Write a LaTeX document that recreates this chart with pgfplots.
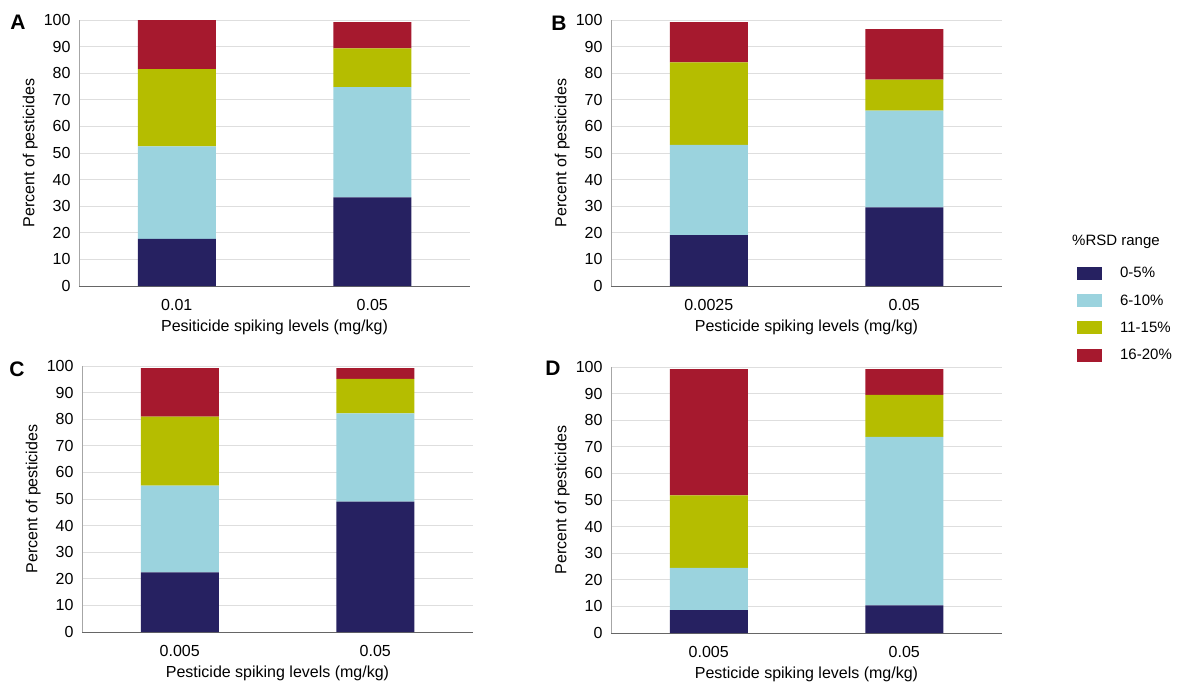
\documentclass[border=0pt]{standalone}
\usepackage{pgfplots}
\pgfplotsset{compat=1.18}
\usepackage{fontspec}
\setmainfont{Liberation Sans}
\definecolor{c1}{RGB}{38,33,97}
\definecolor{c2}{RGB}{155,211,222}
\definecolor{c3}{RGB}{181,189,0}
\definecolor{c4}{RGB}{166,25,46}
\pgfplotsset{panel/.style={
  scale only axis, width=391pt, height=266pt,
  ybar stacked, bar width=78pt,
  xmin=-0.5, xmax=1.5, ymin=0, ymax=100,
  xtick={0,1}, ytick={0,10,...,100},
  axis x line*=bottom, axis y line*=left,
  x axis line style={draw=black!60, line width=1pt},
  y axis line style={draw=black!35, line width=0.8pt},
  ymajorgrids, grid style={draw=black!13, line width=0.8pt},
  major tick length=0pt,
  tick label style={font=\fontsize{16}{18}\selectfont},
  label style={font=\fontsize{16}{18}\selectfont},
  /pgf/number format/assume math mode=true,
  xticklabel style={anchor=center, yshift=-19pt},
  yticklabel style={xshift=-5pt},
  ylabel={Percent of pesticides},
  xlabel={Pesticide spiking levels (mg/kg)},
  ylabel style={at={(axis description cs:-0.125,0.5)}, anchor=center},
  xlabel style={at={(axis description cs:0.5,-0.154)}, anchor=center},
  every axis plot/.append style={draw=none},
  legend image code/.code={\fill[##1] (0pt,-6.5pt) rectangle (25pt,6.5pt);},
}}
\begin{document}
\begin{tikzpicture}
\useasboundingbox (0pt,0pt) rectangle (1177pt,-683pt);
% Panel A
\begin{axis}[panel, at={(79pt,-286pt)}, anchor=south west, xticklabels={0.01,0.05},
  xlabel={Pesiticide spiking levels (mg/kg)}]
\addplot[fill=c1] coordinates {(0,17.7) (1,33.3)};
\addplot[fill=c2] coordinates {(0,34.8) (1,41.5)};
\addplot[fill=c3] coordinates {(0,29.0) (1,14.5)};
\addplot[fill=c4] coordinates {(0,18.5) (1,9.9)};
\end{axis}
% Panel B
\begin{axis}[panel, at={(611pt,-286pt)}, anchor=south west, xticklabels={0.0025,0.05},
  legend style={at={(axis description cs:1.184,0.087)}, anchor=north west, draw=none, fill=none,
    font=\fontsize{15}{17}\selectfont, row sep=11.5pt,
    nodes={inner xsep=3pt},
    /tikz/every odd column/.append style={column sep=15pt}},
  legend cell align=left]
\addplot[fill=c1] coordinates {(0,19.1) (1,29.6)};
\addplot[fill=c2] coordinates {(0,34.0) (1,36.3)};
\addplot[fill=c3] coordinates {(0,31.0) (1,11.7)};
\addplot[fill=c4] coordinates {(0,15.1) (1,19.0)};
\legend{0-5\%,6-10\%,11-15\%,16-20\%}
\end{axis}
% Panel C
\begin{axis}[panel, at={(82pt,-632pt)}, anchor=south west, xticklabels={0.005,0.05}]
\addplot[fill=c1] coordinates {(0,22.4) (1,49.0)};
\addplot[fill=c2] coordinates {(0,32.6) (1,33.2)};
\addplot[fill=c3] coordinates {(0,26.0) (1,13.0)};
\addplot[fill=c4] coordinates {(0,18.2) (1,4.0)};
\end{axis}
% Panel D
\begin{axis}[panel, at={(611pt,-633pt)}, anchor=south west, xticklabels={0.005,0.05}]
\addplot[fill=c1] coordinates {(0,8.6) (1,10.4)};
\addplot[fill=c2] coordinates {(0,15.9) (1,63.3)};
\addplot[fill=c3] coordinates {(0,27.2) (1,15.8)};
\addplot[fill=c4] coordinates {(0,47.5) (1,9.7)};
\end{axis}
\node[font=\fontsize{21}{23}\selectfont\bfseries] at (18pt,-22pt) {A};
\node[font=\fontsize{21}{23}\selectfont\bfseries] at (559pt,-23pt) {B};
\node[font=\fontsize{21}{23}\selectfont\bfseries] at (17pt,-369pt) {C};
\node[font=\fontsize{21}{23}\selectfont\bfseries] at (553pt,-368pt) {D};
\node[font=\fontsize{15}{17}\selectfont] at (1116pt,-242pt) {\%RSD range};
\end{tikzpicture}
\end{document}
